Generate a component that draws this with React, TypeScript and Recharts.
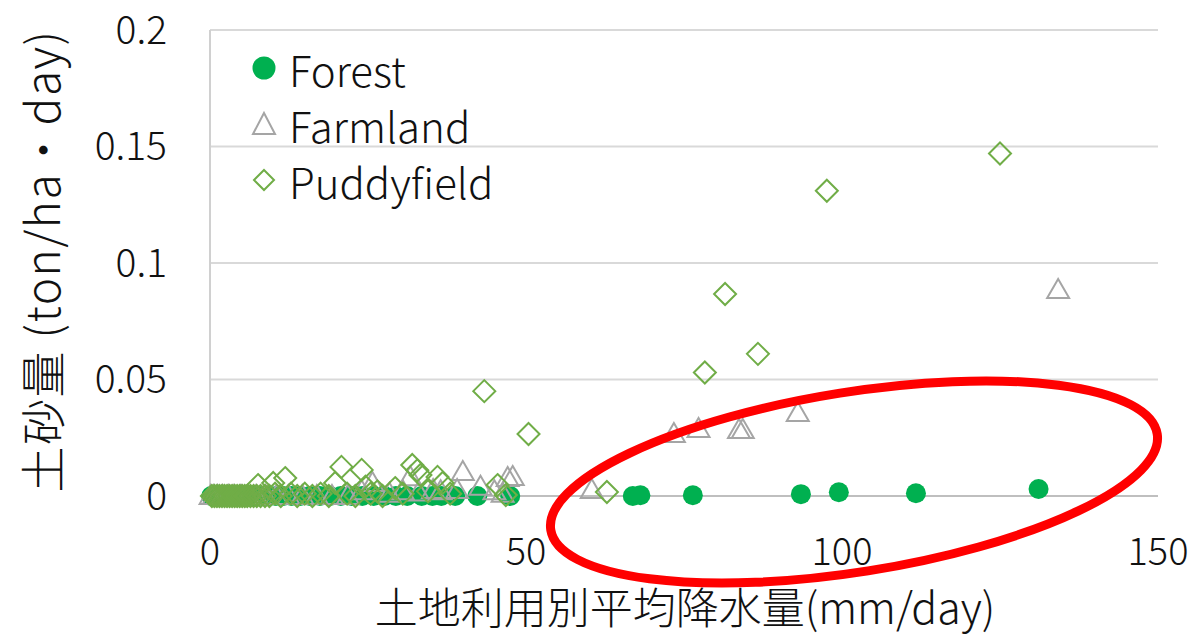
import React from 'react';
import {
  ScatterChart, Scatter, XAxis, YAxis, CartesianGrid, Label,
} from 'recharts';

const FONT = '"Noto Sans CJK JP", "Noto Sans", sans-serif';

const xTicks = [0, 50, 100, 150];
const yTicks = [0, 0.05, 0.1, 0.15, 0.2];

// [rainfall mm/day, sediment ton/ha/day]
const forest: [number, number][] = [
  [0.2, 0], [0.5, 0], [0.8, 0], [1.1, 0], [1.4, 0], [1.8, 0], [2.2, 0], [2.6, 0],
  [3.0, 0], [3.5, 0], [4.0, 0], [4.5, 0], [5.0, 0], [5.6, 0], [6.2, 0], [6.9, 0],
  [7.6, 0], [8.4, 0], [9.3, 0], [10.4, 0], [11.6, 0], [12.9, 0], [14.3, 0], [15.8, 0],
  [17.4, 0], [19.0, 0], [20.7, 0], [22.4, 0], [24.1, 0], [25.9, 0], [27.6, 0], [29.4, 0],
  [31.2, 0], [33.5, 0], [35.2, 0], [36.6, 0], [38.8, 0], [42.3, 0], [47.5, 0],
  [66.9, 0], [68.1, 0.0003], [76.4, 0.0003], [93.5, 0.0008], [99.5, 0.0016],
  [111.7, 0.0012], [131.1, 0.003],
];

const farmland: [number, number][] = [
  [0.1, 0], [0.6, 0], [1.2, 0], [2.0, 0], [2.9, 0], [3.8, 0], [4.9, 0], [6.0, 0],
  [7.3, 0], [8.8, 0], [10.5, 0], [12.4, 0], [14.6, 0], [16.9, 0], [19.3, 0], [21.8, 0],
  [24.0, 0.002], [25.7, 0.0056], [28.4, 0.001], [30.5, 0.002], [31.7, 0.008],
  [33.0, 0.0015], [35.3, 0.0026], [36.5, 0.002], [39.1, 0.0026], [40.0, 0.0103],
  [42.8, 0.004], [45.0, 0.002], [46.3, 0.001], [47.1, 0.0077], [47.9, 0.0082],
  [60.4, 0.0026], [73.4, 0.0266], [77.3, 0.0288], [83.7, 0.0283], [84.3, 0.0283],
  [93.0, 0.0356], [134.2, 0.0884],
];

const puddyfield: [number, number][] = [
  [0.3, 0], [0.7, 0], [1.1, 0], [1.5, 0], [1.9, 0], [2.3, 0], [2.7, 0], [3.1, 0],
  [3.5, 0], [3.9, 0], [4.3, 0], [4.7, 0], [5.1, 0], [5.5, 0], [5.9, 0], [6.4, 0],
  [6.9, 0], [7.4, 0], [7.6, 0.0047], [8.0, 0], [8.7, 0], [9.4, 0], [10.0, 0.0056],
  [10.3, 0.001], [11.2, 0], [11.9, 0.0077], [12.8, 0.001], [13.8, 0], [15.0, 0.001],
  [16.2, 0], [17.5, 0.001], [18.8, 0], [19.8, 0.0056], [20.8, 0.0125], [21.7, 0.001],
  [23.0, 0], [24.0, 0.0112], [24.6, 0.004], [25.4, 0.001], [26.5, 0.002], [27.3, 0],
  [29.3, 0.0034], [30.5, 0.001], [32.0, 0.0133], [32.8, 0.011], [33.3, 0.009],
  [34.5, 0.002], [36.0, 0.0082], [36.8, 0.0056], [38.0, 0.001], [43.4, 0.045],
  [45.5, 0.0047], [46.8, 0.0004], [50.4, 0.0266], [62.8, 0.0017], [78.3, 0.053],
  [81.5, 0.0867], [86.7, 0.061], [97.6, 0.131], [125.0, 0.147],
];

const toRows = (pts: [number, number][]) => pts.map(([x, y]) => ({ x, y }));

const FOREST = '#00B050';
const FARM = '#A5A5A5';
const PADDY = '#70AD47';

const Dot = (p: any) => <circle cx={p.cx} cy={p.cy} r={10} fill={FOREST} />;
const Tri = (p: any) => (
  <path
    d={`M${p.cx},${p.cy - 11} L${p.cx + 11},${p.cy + 8} L${p.cx - 11},${p.cy + 8} Z`}
    fill="none" stroke={FARM} strokeWidth={2}
  />
);
const Diamond = (p: any) => (
  <path
    d={`M${p.cx},${p.cy - 11} L${p.cx + 11},${p.cy} L${p.cx},${p.cy + 11} L${p.cx - 11},${p.cy} Z`}
    fill="none" stroke={PADDY} strokeWidth={2}
  />
);

const legendItems = [
  { name: 'Forest', icon: <circle cx={14} cy={14} r={11.5} fill={FOREST} /> },
  { name: 'Farmland', icon: <path d="M14,3 L25,24 L3,24 Z" fill="none" stroke={FARM} strokeWidth={2} /> },
  { name: 'Puddyfield', icon: <path d="M14,4 L24,14 L14,24 L4,14 Z" fill="none" stroke={PADDY} strokeWidth={2} /> },
];

export default function App() {
  return (
    <div style={{ position: 'absolute', left: 0, top: 0, width: 1196, height: 637, background: '#fff' }}>
      <ScatterChart width={1196} height={637} margin={{ top: 30, right: 38, bottom: 0, left: 0 }}>
        <CartesianGrid vertical={false} stroke="#D9D9D9" strokeWidth={2} />
        <XAxis
          type="number" dataKey="x" domain={[0, 150]} ticks={xTicks} height={141}
          axisLine={{ stroke: '#BFBFBF', strokeWidth: 2 }} tickLine={false} tickSize={0} tickMargin={42}
          tick={{ fontSize: 38, fill: '#111', fontFamily: FONT, fontWeight: 300 }}
        >
          <Label
            content={() => (
              <text x={685} y={624} textAnchor="middle" fontSize={43} fill="#111" fontFamily={FONT} fontWeight={300}>
                土地利用別平均降水量(mm/day)
              </text>
            )}
          />
        </XAxis>
        <YAxis
          type="number" dataKey="y" domain={[0, 0.2]} ticks={yTicks} width={210}
          axisLine={{ stroke: '#D0D0D0', strokeWidth: 2 }} tickLine={false} tickSize={0} tickMargin={43}
          tick={{ fontSize: 39, fill: '#111', fontFamily: FONT, fontWeight: 300 }}
        >
          <Label
            content={() => (
              <text
                transform="translate(40,261) rotate(-90)" textAnchor="middle" dominantBaseline="central"
                fontSize={46} letterSpacing={1.5} fill="#111" fontFamily={FONT} fontWeight={300}
              >
                土砂量 (ton/ha・day)
              </text>
            )}
          />
        </YAxis>
        <Scatter name="Forest" data={toRows(forest)} shape={Dot} isAnimationActive={false} />
        <Scatter name="Farmland" data={toRows(farmland)} shape={Tri} isAnimationActive={false} />
        <Scatter name="Puddyfield" data={toRows(puddyfield)} shape={Diamond} isAnimationActive={false} />
      </ScatterChart>
      <div style={{ position: 'absolute', left: 250, top: 40, fontFamily: FONT, fontSize: 42, fontWeight: 300, color: '#111' }}>
        {legendItems.map((it) => (
          <div key={it.name} style={{ display: 'flex', alignItems: 'center', height: 56 }}>
            <svg width={28} height={28} style={{ marginRight: 11 }}>{it.icon}</svg>
            <span>{it.name}</span>
          </div>
        ))}
      </div>
      <svg width={1196} height={637} style={{ position: 'absolute', left: 0, top: 0, pointerEvents: 'none' }}>
        <ellipse cx={854} cy={482} rx={307} ry={90} transform="rotate(-9 854 482)" fill="none" stroke="#FF0000" strokeWidth={9} />
      </svg>
    </div>
  );
}
